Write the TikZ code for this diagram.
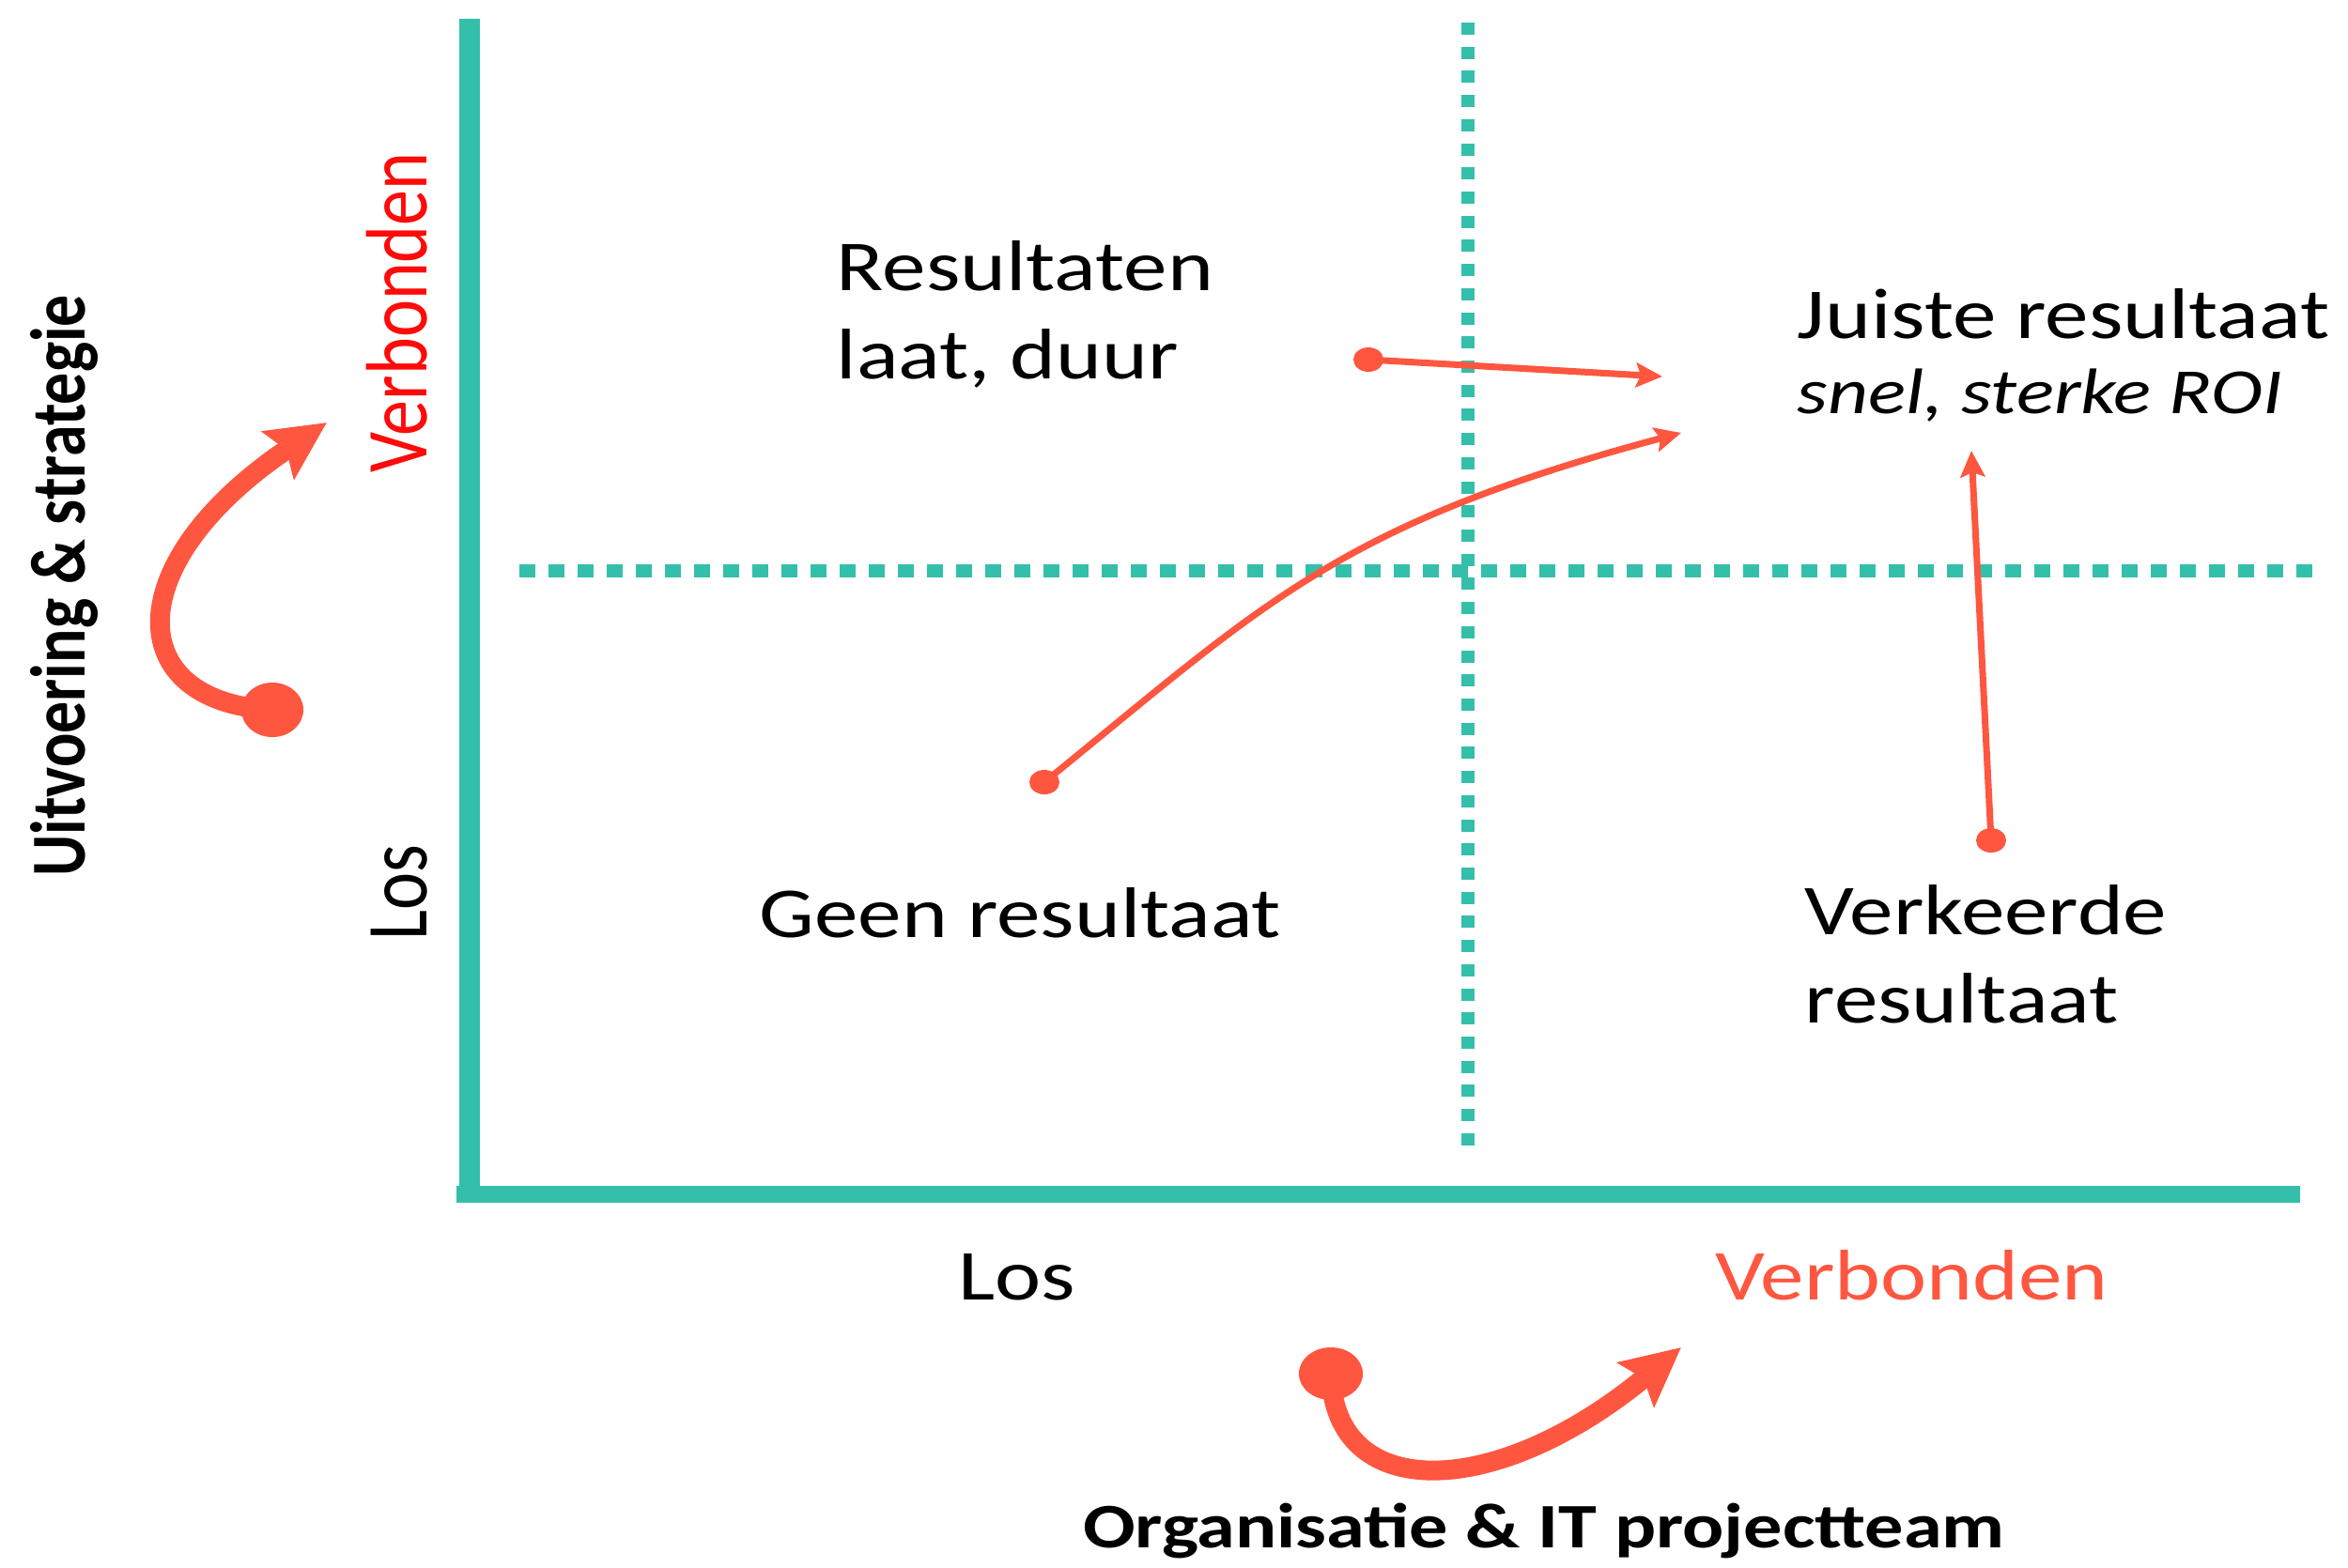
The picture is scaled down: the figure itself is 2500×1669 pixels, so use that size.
\documentclass[tikz,border=0pt]{standalone}
\usepackage{fontspec}
\setmainfont{Carlito}[FakeStretch=1.22]
\newfontfamily\plainfont{Carlito}
\usetikzlibrary{arrows.meta}
\definecolor{axisteal}{RGB}{52,191,171}
\definecolor{coral}{RGB}{255,86,64}
\definecolor{brightred}{RGB}{255,10,10}
\tikzset{
  lbl/.style={inner sep=0pt, font=\fontsize{21.7}{26.5}\selectfont, align=left, anchor=base west},
  boldlbl/.style={inner sep=0pt, font=\fontsize{19.2}{23}\selectfont\bfseries, anchor=base},
  vtext/.style={inner sep=0pt, rotate=90, anchor=base},
  thinarrow/.style={draw=coral, line width=0.07cm, -{Stealth[length=0.28cm, width=0.26cm, inset=0.05cm]}},
  thickarrow/.style={draw=coral, line width=0.21cm, -{Stealth[length=0.62cm, width=0.6cm, inset=0.1cm]}},
  vdots/.style={draw=axisteal, line width=0.14cm, dash pattern=on 0.13cm off 0.127cm},
  hdots/.style={draw=axisteal, line width=0.14cm, dash pattern=on 0.17cm off 0.14cm},
}
\begin{document}
\begin{tikzpicture}[x=0.01cm, y=-0.01cm]
\useasboundingbox (0,0) rectangle (2500,1669);
% axes
\fill[axisteal] (489,20) rectangle (511,1281);
\fill[axisteal] (486,1263) rectangle (2449,1281);
% dotted quadrant lines
\coordinate (vtop) at (1563,24);
\coordinate (vbot) at (1563,1228);
\coordinate (hleft) at (553,608);
\coordinate (hright) at (2463,608);
\draw[vdots] (vtop) -- (vbot);
\draw[hdots] (hleft) -- (hright);
% texts (multi-line nodes: base = baseline of the last line)
\node[lbl] (res) at (890,403) {Resultaten\\laat, duur};
\node[lbl] (juist) at (1913,360) {Juiste resultaat};
\node[lbl, font=\fontsize{19.5}{22}\selectfont\itshape] (snel) at (1913,440) {snel, sterke ROI};
\node[lbl] (geen) at (808,998) {Geen resultaat};
\node[lbl] (verk) at (1921,1089) {Verkeerde\\resultaat};
\node[lbl] (xlos) at (1020,1384) {Los};
\node[lbl, text=coral] (xverb) at (1826,1384) {Verbonden};
\node[boldlbl] (xtitle) at (1644,1648) {Organisatie \& IT projectteam};
\node[vtext, text=brightred] (yverb) at (454,333) {\scalebox{1}[1.22]{\plainfont\fontsize{21.6}{25}\selectfont Verbonden}};
\node[vtext] (ylos) at (454,951) {\scalebox{1}[1.22]{\plainfont\fontsize{21.6}{25}\selectfont Los}};
\node[vtext] (ytitle) at (90,624) {\scalebox{1}[1.22]{\plainfont\fontsize{19.3}{23}\selectfont\bfseries Uitvoering \& strategie}};
% thin arrows
\coordinate (d1) at (1457,383);
\coordinate (t1) at (1770,401);
\coordinate (d2) at (1112,833);
\coordinate (t2) at (1790,461);
\coordinate (d3) at (2120,895);
\coordinate (t3) at (2099,480);
\draw[thinarrow] (d1) -- (t1);
\draw[thinarrow] (d2) .. controls (1345,644) and (1423,559) .. (t2);
\draw[thinarrow] (d3) -- (t3);
\fill[coral] (d1) ellipse [x radius=0.16cm, y radius=0.13cm];
\fill[coral] (d2) ellipse [x radius=0.16cm, y radius=0.13cm];
\fill[coral] (d3) ellipse [x radius=0.16cm, y radius=0.13cm];
% thick arrows
\coordinate (dl) at (290,756);
\coordinate (tl) at (348,450);
\coordinate (db) at (1417,1463);
\coordinate (tb) at (1790,1435);
\draw[thickarrow] (dl) .. controls (130,748) and (125,600) .. (tl);
\draw[thickarrow] (db) .. controls (1420,1600) and (1590,1600) .. (tb);
\fill[coral] (dl) ellipse [x radius=0.33cm, y radius=0.29cm];
\fill[coral] (db) ellipse [x radius=0.34cm, y radius=0.28cm];
\end{tikzpicture}
\end{document}
